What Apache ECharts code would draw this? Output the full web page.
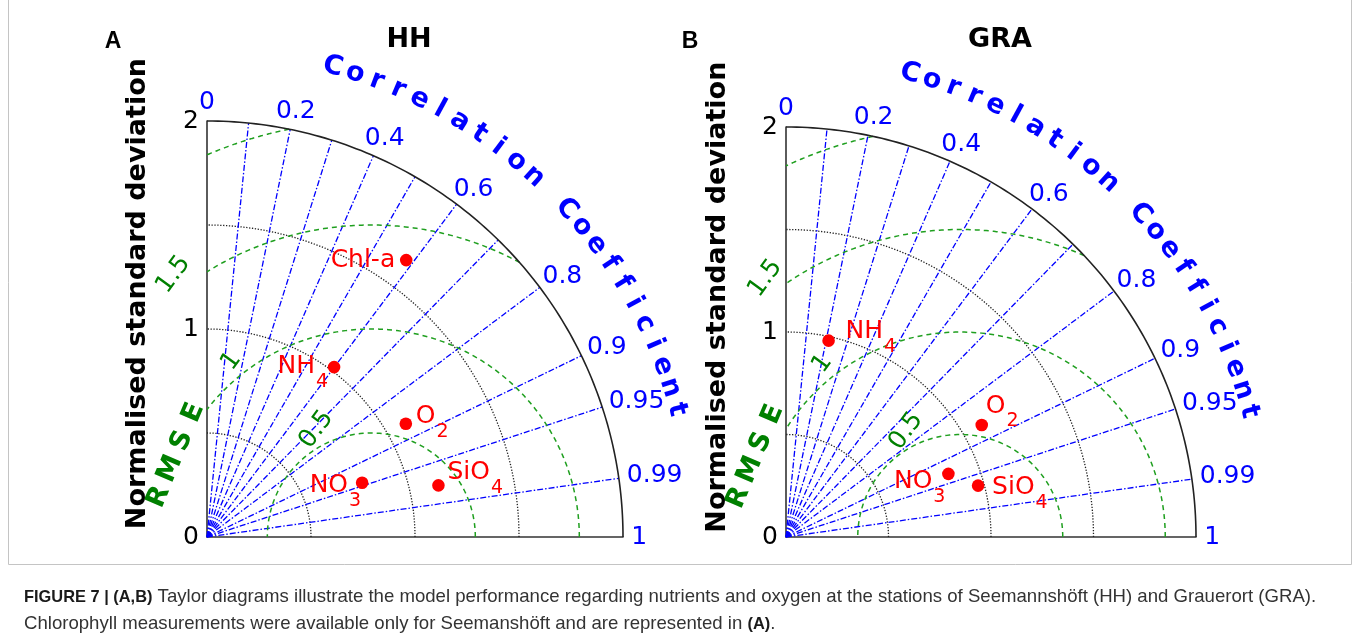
<!DOCTYPE html>
<html>
<head>
<meta charset="utf-8">
<title>Taylor diagrams HH / GRA</title>
<script src="https://cdn.jsdelivr.net/npm/echarts@6/dist/echarts.min.js"></script>
<style>
  html, body { margin: 0; padding: 0; background: #fff; }
  #chart { width: 1360px; height: 643px; }
</style>
</head>
<body>
<div id="chart"></div>
<script>
// ---- Station HH (Seemannshöft): normalised standard deviation and correlation
const hhVariables = ['Chl-a', 'NH_4', 'O_2', 'NO_3', 'SiO_4'];
const hhStd = [1.64, 1.02, 1.10, 0.79, 1.14];
const hhCorr = [0.584, 0.599, 0.869, 0.944, 0.976];
const hhRefStd = 0.79;

// ---- Station GRA (Grauerort)
const graVariables = ['NH_4', 'O_2', 'NO_3', 'SiO_4'];
const graStd = [0.98, 1.10, 0.85, 0.97];
const graCorr = [0.212, 0.868, 0.932, 0.966];
const graRefStd = 0.85;

// ---- Axes and grid ticks
const stdMax = 2;
const stdGridTicks = [0.5, 1, 1.5];
const corrLineTicks = [0.1, 0.2, 0.3, 0.4, 0.5, 0.6, 0.7, 0.8, 0.9, 0.95, 0.99];
const corrLabelTicks = [0, 0.2, 0.4, 0.6, 0.8, 0.9, 0.95, 0.99, 1];
const corrLabelText = ['0', '0.2', '0.4', '0.6', '0.8', '0.9', '0.95', '0.99', '1'];
const rmsTicks = [0.5, 1, 1.5, 2];
const rmsLabelTicks = [0.5, 1, 1.5];
const rmsLabelText = ['0.5', '1', '1.5'];

const panelLetters = ['A', 'B'];
const panelTitles = ['HH', 'GRA'];
const corrTitle = 'Correlation Coefficient';
const rmsTitle = 'RMSE';
const stdTitle = 'Normalised standard deviation';
const captionLines = [
  ['FIGURE 7 | (A,B)', ' Taylor diagrams illustrate the model performance regarding nutrients and oxygen at the stations of Seemannshöft (HH) and Grauerort (GRA).', ''],
  ['', 'Chlorophyll measurements were available only for Seemanshöft and are represented in ', '(A)']
];

// ---- Label layout around the markers (pixels): [dx, dy of main text centre, anchor side]
const hhLabelPlacement = [[-11, 0, 'right'], [-6, -1, 'right'], [10, -7, 'left'], [-1, 3, 'right'], [9, -13, 'left']];
const graLabelPlacement = [[17, -9, 'left'], [4, -19, 'left'], [-3, 8, 'right'], [14, 2, 'left']];

// ---- Styling
const FONT = '"DejaVu Sans", Verdana, sans-serif';
const CAP_FONT = '"Liberation Sans", Arial, sans-serif';
const BLUE = '#0000ff';
const RED = '#ff0000';
const GREEN_TXT = '#008000';
const GREEN_LINE = '#1f9f1f';

const measureCtx = document.createElement('canvas').getContext('2d');
function textWidth(str, font) {
  measureCtx.font = font;
  return measureCtx.measureText(str).width;
}
function rad(d) { return d * Math.PI / 180; }

// polyline along a circle centred on (cx, 0) in data space
function arcPoints(api, cx, r, a0, a1) {
  const pts = [];
  const n = 120;
  for (let k = 0; k <= n; k++) {
    const t = a0 + (a1 - a0) * k / n;
    pts.push(api.coord([cx + r * Math.cos(t), r * Math.sin(t)]));
  }
  return pts;
}

function buildPanel(pi, variables, std, corr, refStd, placement) {
  const base = { type: 'custom', coordinateSystem: 'cartesian2d', xAxisIndex: pi, yAxisIndex: pi, clip: false, silent: true };
  const series = [];

  // standard deviation circles (dotted) and the outer limit (solid)
  series.push(Object.assign({}, base, {
    z: 2,
    data: stdGridTicks.map(v => [v]),
    renderItem(params, api) {
      const r = api.value(0);
      return { type: 'polyline', shape: { points: arcPoints(api, 0, r, 0, Math.PI / 2) },
        style: { stroke: '#222', lineWidth: 1.3, lineDash: [1.3, 1.6], fill: null } };
    }
  }));
  series.push(Object.assign({}, base, {
    z: 6,
    data: [[stdMax]],
    renderItem(params, api) {
      return { type: 'polyline', shape: { points: arcPoints(api, 0, api.value(0), 0, Math.PI / 2) },
        style: { stroke: '#222', lineWidth: 1.6, fill: null } };
    }
  }));

  // correlation rays (dash-dot)
  series.push(Object.assign({}, base, {
    z: 3,
    data: corrLineTicks.map(c => [c]),
    renderItem(params, api) {
      const c = api.value(0);
      const s = Math.sqrt(1 - c * c);
      return { type: 'polyline', shape: { points: [api.coord([0, 0]), api.coord([stdMax * c, stdMax * s])] },
        style: { stroke: BLUE, lineWidth: 1.3, lineDash: [6, 2, 1.5, 2], fill: null } };
    }
  }));

  // centred RMS difference circles (dashed), clipped to the quarter disc
  series.push(Object.assign({}, base, {
    z: 4,
    data: rmsTicks.map(v => [v]),
    renderItem(params, api) {
      const r = api.value(0);
      const R = stdMax;
      let a0 = 0;
      const co = (R * R - refStd * refStd - r * r) / (2 * refStd * r);
      if (co < 1 && co > -1 && (refStd + r) > R) a0 = Math.acos(co);
      let a1 = Math.PI;
      if (r > refStd) a1 = Math.acos(-refStd / r);
      return { type: 'polyline', shape: { points: arcPoints(api, refStd, r, a0, a1) },
        style: { stroke: GREEN_LINE, lineWidth: 1.5, lineDash: [5, 4], fill: null } };
    }
  }));

  // RMS labels
  const rmsLabelAngle = [117, 128.5, 127];
  series.push(Object.assign({}, base, {
    z: 7,
    data: rmsLabelTicks.map(v => [v]),
    renderItem(params, api) {
      const r = api.value(0) + 0.08;
      const a = rad(rmsLabelAngle[params.dataIndex]);
      const p = api.coord([refStd + r * Math.cos(a), r * Math.sin(a)]);
      return { type: 'text', x: p[0], y: p[1], rotation: rad(54),
        style: { text: rmsLabelText[params.dataIndex], fill: GREEN_TXT, font: '25px ' + FONT, align: 'center', verticalAlign: 'middle' } };
    }
  }));

  // RMSE title letters
  series.push(Object.assign({}, base, {
    z: 7,
    data: rmsTitle.split('').map((ch, i) => [i]),
    renderItem(params, api) {
      const i = api.value(0);
      const p = api.coord([-0.232 + 0.056 * i, 0.192 + 0.135 * i]);
      return { type: 'text', x: p[0], y: p[1], rotation: rad(67),
        style: { text: rmsTitle[i], fill: GREEN_TXT, font: 'bold 27px ' + FONT, align: 'center', verticalAlign: 'middle' } };
    }
  }));

  // correlation tick labels
  series.push(Object.assign({}, base, {
    z: 7,
    data: corrLabelTicks.map(c => [c]),
    renderItem(params, api) {
      const c = api.value(0);
      const s = Math.sqrt(Math.max(0, 1 - c * c));
      const txt = corrLabelText[params.dataIndex];
      const font = '25px ' + FONT;
      const w = textWidth(txt, font);
      const p = api.coord([2.04 * c, 2.04 * s]);
      return { type: 'text', x: p[0] + w / 2 * c, y: p[1] - 10 * s,
        style: { text: txt, fill: BLUE, font: font, align: 'center', verticalAlign: 'middle' } };
    }
  }));

  // "Correlation Coefficient" along the outer arc
  series.push(Object.assign({}, base, {
    z: 7,
    data: corrTitle.split('').map((ch, i) => [i]),
    renderItem(params, api) {
      const i = api.value(0);
      const ang = 75 - 2.72 * i;
      const p = api.coord([2.34 * Math.cos(rad(ang)), 2.34 * Math.sin(rad(ang))]);
      return { type: 'text', x: p[0], y: p[1], rotation: rad(ang - 90),
        style: { text: corrTitle[i], fill: BLUE, font: 'bold 27px ' + FONT, align: 'center', verticalAlign: 'middle' } };
    }
  }));

  // y axis title
  series.push(Object.assign({}, base, {
    z: 7,
    data: [[-0.33, 1.17]],
    renderItem(params, api) {
      const p = api.coord([api.value(0), api.value(1)]);
      return { type: 'text', x: p[0], y: p[1], rotation: rad(90),
        style: { text: stdTitle, fill: '#000', font: 'bold 27px ' + FONT, align: 'center', verticalAlign: 'middle' } };
    }
  }));

  // model points and their labels
  series.push(Object.assign({}, base, {
    z: 10,
    data: std.map((s, i) => [s * corr[i], s * Math.sqrt(1 - corr[i] * corr[i])]),
    renderItem(params, api) {
      const p = api.coord([api.value(0), api.value(1)]);
      const name = variables[params.dataIndex].split('_');
      const pl = placement[params.dataIndex];
      const mainFont = '25px ' + FONT;
      const subFont = '19px ' + FONT;
      const wm = textWidth(name[0], mainFont);
      const ws = name[1] ? textWidth(name[1], subFont) : 0;
      const total = wm + (name[1] ? ws + 1 : 0);
      const left = pl[2] === 'right' ? p[0] + pl[0] - total : p[0] + pl[0];
      const cy = p[1] + pl[1];
      const children = [
        { type: 'circle', shape: { cx: p[0], cy: p[1], r: 6.3 }, style: { fill: RED } },
        { type: 'text', x: left, y: cy, style: { text: name[0], fill: RED, font: mainFont, align: 'left', verticalAlign: 'middle' } }
      ];
      if (name[1]) {
        children.push({ type: 'text', x: left + wm + 1, y: cy + 15.5,
          style: { text: name[1], fill: RED, font: subFont, align: 'left', verticalAlign: 'middle' } });
      }
      return { type: 'group', children: children };
    }
  }));

  return series;
}

// caption: bold / regular / bold runs laid out one after another
function captionLine(parts, y) {
  const boldFont = 'bold 16.4px ' + CAP_FONT;
  const regFont = '18.6px ' + CAP_FONT;
  const els = [];
  let x = 24;
  const runs = [[parts[0], boldFont, '#1a1a1a'], [parts[1], regFont, '#333'], [parts[2], boldFont, '#1a1a1a']];
  runs.forEach(run => {
    if (!run[0]) return;
    els.push({ type: 'text', x: x, y: y, style: { text: run[0], font: run[1], fill: run[2], align: 'left', verticalAlign: 'middle' } });
    x += textWidth(run[0], run[1]);
  });
  els.push({ type: 'text', x: x, y: y, style: { text: parts[2] ? '.' : '', font: regFont, fill: '#333', align: 'left', verticalAlign: 'middle' } });
  return els;
}

const chart = echarts.init(document.getElementById('chart'), null, { renderer: 'canvas' });

const axisLine = { show: true, lineStyle: { color: '#333', width: 1.6 } };
const option = {
  animation: false,
  backgroundColor: '#ffffff',
  grid: [
    { left: 207, top: 121, width: 416, height: 416 },
    { left: 786, top: 127, width: 410, height: 410 }
  ],
  xAxis: [0, 1].map(i => ({
    gridIndex: i, type: 'value', min: 0, max: stdMax, interval: 1,
    axisLine: axisLine, axisTick: { show: false }, axisLabel: { show: false }, splitLine: { show: false }
  })),
  yAxis: [0, 1].map(i => ({
    gridIndex: i, type: 'value', min: 0, max: stdMax, interval: 1,
    axisLine: axisLine, axisTick: { show: false }, splitLine: { show: false },
    axisLabel: { color: '#000', fontSize: 25, fontFamily: FONT, margin: 8 }
  })),
  series: [].concat(
    buildPanel(0, hhVariables, hhStd, hhCorr, hhRefStd, hhLabelPlacement),
    buildPanel(1, graVariables, graStd, graCorr, graRefStd, graLabelPlacement)
  ),
  graphic: [
    { type: 'text', x: 113, y: 42, style: { text: panelLetters[0], font: 'bold 23px ' + CAP_FONT, fill: '#000', align: 'center', verticalAlign: 'middle' } },
    { type: 'text', x: 409, y: 40, style: { text: panelTitles[0], font: 'bold 27px ' + FONT, fill: '#000', align: 'center', verticalAlign: 'middle' } },
    { type: 'text', x: 690, y: 42, style: { text: panelLetters[1], font: 'bold 23px ' + CAP_FONT, fill: '#000', align: 'center', verticalAlign: 'middle' } },
    { type: 'text', x: 1000, y: 40, style: { text: panelTitles[1], font: 'bold 27px ' + FONT, fill: '#000', align: 'center', verticalAlign: 'middle' } },
    { type: 'polyline', shape: { points: [[8.5, 0], [8.5, 564.5], [1351.5, 564.5], [1351.5, 0]] }, style: { stroke: '#c4c4c4', lineWidth: 1, fill: null } }
  ].concat(captionLine(captionLines[0], 597), captionLine(captionLines[1], 624))
};
chart.setOption(option);
</script>
</body>
</html>
